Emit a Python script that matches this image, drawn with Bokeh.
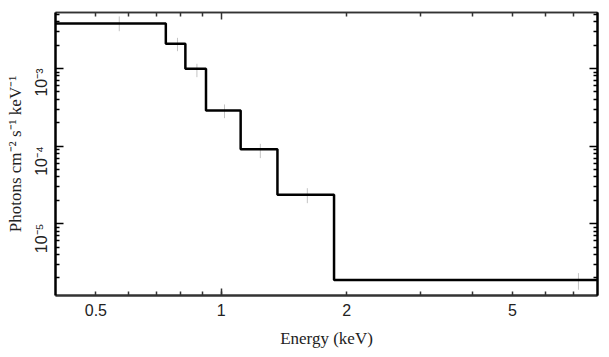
import math
from bokeh.plotting import figure
from bokeh.models import LogAxis, FixedTicker, CustomJSTickFormatter
from bokeh.embed import file_html
from bokeh.resources import INLINE

# Model (step histogram): bin edges in keV and model flux per bin
bin_edges = [0.4, 0.736, 0.82, 0.919, 1.113, 1.364, 1.865, 8.0]
model_flux = [3.80e-3, 2.08e-3, 9.9e-4, 2.88e-4, 9.14e-5, 2.36e-5, 1.88e-6]

# Data points: energy and error bar bounds
data_energy = [0.569, 0.785, 0.874, 1.018, 1.241, 1.609, 7.2]
data_low = [3.02e-3, 1.67e-3, 7.72e-4, 2.29e-4, 7.0e-5, 1.84e-5, 1.41e-6]
data_high = [4.68e-3, 2.48e-3, 1.15e-3, 3.44e-4, 1.07e-4, 2.87e-5, 2.31e-6]

# Ticks
x_ticks = [0.5, 1, 2, 5]
x_tick_labels = ["0.5", "1", "2", "5"]
x_decades = [1]
x_minor = [0.6, 0.7, 0.8, 0.9, 3, 4, 6, 7]
y_ticks = [1e-5, 1e-4, 1e-3]
y_tick_labels = ["10\u207b\u2075", "10\u207b\u2074", "10\u207b\u00b3"]
y_minor = [k * 10.0 ** e for e in (-6, -5, -4, -3) for k in range(2, 10)]

SANS = "Liberation Sans"
SERIF = "Liberation Serif"

p = figure(width=609, height=357, x_axis_type="log", y_axis_type="log",
           x_range=(0.4, 8.0), y_range=(1.19e-6, 5.26e-3),
           output_backend="svg", toolbar_location=None,
           min_border_left=55, min_border_right=12, min_border_top=12,
           min_border_bottom=62, background_fill_color="white",
           border_fill_color="white", outline_line_color=None)
p.xgrid.visible = False
p.ygrid.visible = False

fmt_code = """
let best = 0, bd = Infinity;
for (let i = 0; i < tvals.length; i++) {
  const d = Math.abs(Math.log(tick) - Math.log(tvals[i]));
  if (d < bd) { bd = d; best = i; }
}
return tlabels[best];
"""
xfmt = CustomJSTickFormatter(args=dict(tvals=x_ticks, tlabels=x_tick_labels), code=fmt_code)
yfmt = CustomJSTickFormatter(args=dict(tvals=y_ticks, tlabels=y_tick_labels), code=fmt_code)


def style(ax, color, lw, major_len, minor_len):
    ax.axis_line_color = color
    ax.axis_line_width = lw
    ax.major_tick_line_color = color
    ax.minor_tick_line_color = color
    ax.major_tick_line_width = 1.5
    ax.minor_tick_line_width = 1.5
    ax.major_tick_in = major_len
    ax.major_tick_out = 0
    ax.minor_tick_in = minor_len
    ax.minor_tick_out = 0


def bare_axis(minor_positions, color, lw, length):
    ax = LogAxis(ticker=FixedTicker(ticks=[], minor_ticks=minor_positions))
    style(ax, color, lw, 0, length)
    return ax


xa = p.xaxis[0]
xa.ticker = FixedTicker(ticks=x_ticks, minor_ticks=x_minor)
xa.formatter = xfmt
style(xa, "#333333", 2, 4, 4)
xa.major_label_text_font = SANS
xa.major_label_text_font_size = "16px"
xa.major_label_text_color = "#222222"
xa.major_label_standoff = 8
xa.axis_label = "Energy (keV)"
xa.axis_label_text_font = SERIF
xa.axis_label_text_font_style = "normal"
xa.axis_label_text_font_size = "17px"
xa.axis_label_text_color = "#222222"
xa.axis_label_standoff = 10

# longer tick at the decade on the bottom axis (unlabelled, nearest the frame)
xb = bare_axis(x_decades, "#333333", 2, 7)
p.below.insert(0, xb)

ya = p.yaxis[0]
ya.ticker = FixedTicker(ticks=y_ticks, minor_ticks=y_minor)
ya.formatter = yfmt
style(ya, "black", 2.5, 8, 4)
ya.major_label_orientation = math.pi / 2
ya.major_label_text_font = SANS
ya.major_label_text_font_size = "16px"
ya.major_label_text_color = "#222222"
ya.major_label_standoff = 14
ya.axis_label = "Photons cm\u207b\u00b2 s\u207b\u00b9 keV\u207b\u00b9"
ya.axis_label_text_font = SERIF
ya.axis_label_text_font_style = "normal"
ya.axis_label_text_font_size = "17px"
ya.axis_label_text_color = "#222222"
ya.axis_label_standoff = -3

# mirrored ticks on top and right, no labels
p.add_layout(bare_axis(x_ticks[:1] + x_minor + x_ticks[2:], "#333333", 1.5, 4), "above")
p.add_layout(bare_axis(x_decades, "#333333", 1.5, 7), "above")
p.add_layout(bare_axis(y_minor, "black", 2, 4), "right")
p.add_layout(bare_axis(y_ticks, "black", 2, 8), "right")

# Error bars (light grey) under the model step
p.segment(x0=data_energy, y0=data_low, x1=data_energy, y1=data_high,
          line_color="#c4c4c4", line_width=1)

# Model step line
p.step(x=bin_edges, y=model_flux + [model_flux[-1]], mode="after",
       line_color="black", line_width=2.5)

open("out.html", "w").write(file_html(p, INLINE))
